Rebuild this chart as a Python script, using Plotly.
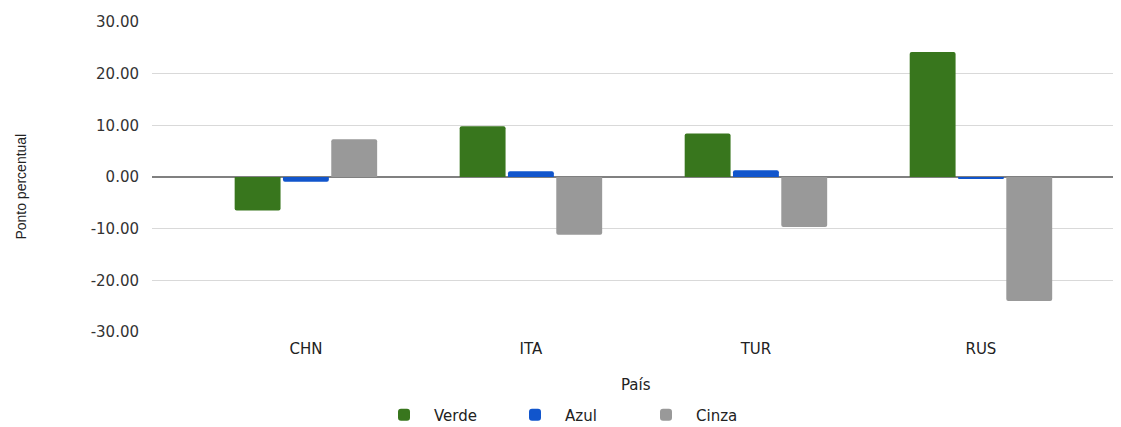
import plotly.graph_objects as go

paises = ["CHN", "ITA", "TUR", "RUS"]
verde = [-6.5, 9.8, 8.4, 24.2]
azul = [-0.9, 1.1, 1.3, -0.25]
cinza = [7.3, -11.2, -9.7, -24.0]
y_ticks = [-30, -20, -10, 0, 10, 20, 30]
y_tick_labels = ["-30.00", "-20.00", "-10.00", "0.00", "10.00", "20.00", "30.00"]

FONT = "DejaVu Sans, Liberation Sans, Arial, sans-serif"

fig = go.Figure()
for name, vals, col in [("Verde", verde, "#38761d"), ("Azul", azul, "#1155cc"), ("Cinza", cinza, "#999999")]:
    fig.add_trace(go.Bar(x=paises, y=vals, name=name, marker=dict(color=col, line=dict(width=0), cornerradius=2)))

# page body has an 8px margin: figure is sized/offset to compensate
W, H = 1113, 419
fig.update_layout(
    width=W, height=H,
    margin=dict(l=144, r=1, t=14, b=95, autoexpand=False),
    paper_bgcolor="white", plot_bgcolor="white",
    barmode="group", bargap=0.356, bargroupgap=0.05,
    font=dict(family=FONT, size=14, color="#222222"),
    showlegend=True,
    legend=dict(orientation="h", x=366 / W, xanchor="left", xref="container",
                y=12 / H, yanchor="middle", yref="container",
                font=dict(size=15, color="#222222"), itemwidth=50,
                entrywidth=66, entrywidthmode="pixels", traceorder="normal"),
    xaxis=dict(type="category", range=[-0.684, 3.618], showgrid=False, showline=False, ticks="",
               automargin=False, tickfont=dict(size=15, color="#222222"), ticklabelstandoff=6),
    yaxis=dict(range=[-30, 30], tickvals=y_ticks, ticktext=y_tick_labels, showgrid=True,
               gridcolor="#d9d9d9", gridwidth=1, zeroline=True, zerolinecolor="#808080", zerolinewidth=1.5,
               automargin=False, showline=False, ticks="", tickfont=dict(size=15, color="#333333"),
               ticklabelstandoff=12),
    annotations=[
        dict(text="País", x=0.5, xref="paper", y=-0.172, yref="paper", showarrow=False,
             xanchor="center", yanchor="middle", font=dict(size=15, color="#222222")),
        dict(text="Ponto percentual", x=-0.135, xref="paper", y=0.47, yref="paper", showarrow=False,
             textangle=-90, xanchor="center", yanchor="middle",
             font=dict(family="Liberation Sans Narrow, Arial Narrow, Liberation Sans, sans-serif", size=14, color="#222222")),
    ],
)
fig.write_html("out.html")
